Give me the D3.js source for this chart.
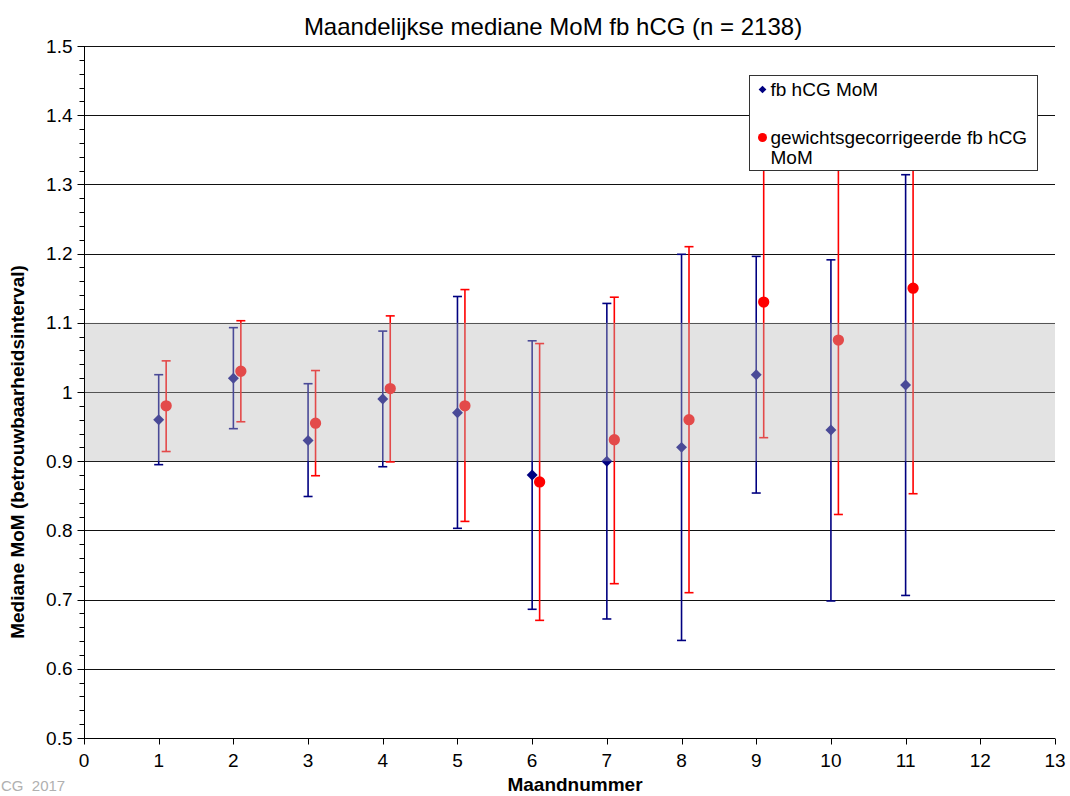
<!DOCTYPE html>
<html>
<head>
<meta charset="utf-8">
<script src="https://cdn.jsdelivr.net/npm/d3@7"></script>
<style>
body { margin: 0; background: #fff; }
svg { font-family: "Liberation Sans", Arial, sans-serif; }
</style>
</head>
<body>
<div id="chart"></div>
<script>
var _width = 1070;
var _height = 796;

// maandnummers
var months = [1, 2, 3, 4, 5, 6, 7, 8, 9, 10, 11];
// fb hCG MoM: mediaan + betrouwbaarheidsinterval
var momMedian = [0.96, 1.02, 0.93, 0.99, 0.97, 0.88, 0.90, 0.92, 1.025, 0.945, 1.01];
var momLow    = [0.895, 0.947, 0.849, 0.892, 0.803, 0.686, 0.672, 0.641, 0.854, 0.698, 0.706];
var momHigh   = [1.025, 1.093, 1.012, 1.088, 1.138, 1.074, 1.128, 1.199, 1.196, 1.191, 1.314];
// gewichtsgecorrigeerde fb hCG MoM
var corMedian = [0.98, 1.03, 0.955, 1.005, 0.98, 0.87, 0.931, 0.96, 1.13, 1.075, 1.15];
var corLow    = [0.914, 0.957, 0.879, 0.899, 0.813, 0.670, 0.723, 0.710, 0.934, 0.823, 0.853];
var corHigh   = [1.045, 1.103, 1.031, 1.110, 1.148, 1.070, 1.137, 1.210, 1.36, 1.35, 1.36];

var xTicks = d3.range(0, 14);
var yTicks = [0.5, 0.6, 0.7, 0.8, 0.9, 1, 1.1, 1.2, 1.3, 1.4, 1.5];
var band = [0.9, 1.1];

var _left = 84, _right = 1055, _top = 46, _bottom = 738;

var x = d3.scaleLinear().domain([0, 13]).range([_left, _right]);
var y = d3.scaleLinear().domain([0.5, 1.5]).range([_bottom, _top]);

function py(v) { return Math.round(y(v)) + 0.5; }

var svg = d3.select('#chart').append('svg')
    .attr('width', _width)
    .attr('height', _height);

// title
svg.append('text')
    .attr('x', 553).attr('y', 35)
    .attr('text-anchor', 'middle')
    .style('font-size', '24px')
    .text('Maandelijkse mediane MoM fb hCG (n = 2138)');

// gridlines
svg.append('g').selectAll('line').data(yTicks.slice(1)).enter().append('line')
    .attr('x1', _left).attr('x2', _right)
    .attr('y1', function (d) { return py(d); })
    .attr('y2', function (d) { return py(d); })
    .style('stroke', '#111')
    .style('stroke-width', 1);

// series
function drawSeries(medians, lows, highs, offset, color, shape) {
    var g = svg.append('g');
    var data = months.map(function (m, i) {
        return { m: m, med: medians[i], lo: lows[i], hi: highs[i] };
    });
    g.selectAll('line.bar').data(data).enter().append('line')
        .attr('x1', function (d) { return x(d.m + offset); })
        .attr('x2', function (d) { return x(d.m + offset); })
        .attr('y1', function (d) { return y(d.lo); })
        .attr('y2', function (d) { return y(d.hi); })
        .style('stroke', color).style('stroke-width', 1.6);
    ['lo', 'hi'].forEach(function (k) {
        g.selectAll('line.cap' + k).data(data).enter().append('line')
            .attr('x1', function (d) { return x(d.m + offset) - 4.5; })
            .attr('x2', function (d) { return x(d.m + offset) + 4.5; })
            .attr('y1', function (d) { return y(d[k]); })
            .attr('y2', function (d) { return y(d[k]); })
            .style('stroke', color).style('stroke-width', 1.6);
    });
    g.selectAll('path.pt').data(data).enter().append('path')
        .attr('d', d3.symbol().type(shape).size(shape === d3.symbolCircle ? 100 : 60))
        .attr('transform', function (d) {
            var r = shape === d3.symbolCircle ? '' : ' rotate(45)';
            return 'translate(' + x(d.m + offset) + ',' + y(d.med) + ')' + r;
        })
        .style('fill', color);
}

drawSeries(momMedian, momLow, momHigh, 0, '#000080', d3.symbolSquare);
drawSeries(corMedian, corLow, corHigh, 0.1, '#ff0000', d3.symbolCircle);

// reference band (0.9 - 1.1), semi transparent over the marks
svg.append('rect')
    .attr('x', _left).attr('width', _right - _left)
    .attr('y', y(band[1])).attr('height', y(band[0]) - y(band[1]))
    .style('fill', 'rgb(185,185,185)')
    .style('fill-opacity', 0.4);

// y axis
var yAxis = svg.append('g').attr('transform', 'translate(' + (_left + 0.5) + ',0)');
yAxis.append('line')
    .attr('y1', _top).attr('y2', _bottom)
    .style('stroke', '#000');
yAxis.selectAll('line.minor').data(d3.range(0, 51)).enter().append('line')
    .attr('x1', -5).attr('x2', 0)
    .attr('y1', function (d) { return py(0.5 + d * 0.02); })
    .attr('y2', function (d) { return py(0.5 + d * 0.02); })
    .style('stroke', '#000');
yAxis.selectAll('line.major').data(yTicks).enter().append('line')
    .attr('x1', -7).attr('x2', 0)
    .attr('y1', function (d) { return py(d); })
    .attr('y2', function (d) { return py(d); })
    .style('stroke', '#000');
yAxis.selectAll('text').data(yTicks).enter().append('text')
    .attr('x', -12)
    .attr('y', function (d) { return y(d) + 6.5; })
    .attr('text-anchor', 'end')
    .style('font-size', '19px')
    .text(function (d) { return d3.format('')(d); });

// x axis
var xAxis = svg.append('g').attr('transform', 'translate(0,' + (_bottom + 0.5) + ')');
xAxis.append('line')
    .attr('x1', _left).attr('x2', _right)
    .style('stroke', '#000');
xAxis.selectAll('line.tick').data(xTicks).enter().append('line')
    .attr('x1', function (d) { return Math.round(x(d)) + 0.5; })
    .attr('x2', function (d) { return Math.round(x(d)) + 0.5; })
    .attr('y1', 0).attr('y2', 6)
    .style('stroke', '#000');
xAxis.selectAll('text').data(xTicks).enter().append('text')
    .attr('x', function (d) { return x(d); })
    .attr('y', 28)
    .attr('text-anchor', 'middle')
    .style('font-size', '19px')
    .text(function (d) { return d; });

// axis titles
svg.append('text')
    .attr('x', 575).attr('y', 791)
    .attr('text-anchor', 'middle')
    .style('font-size', '19px').style('font-weight', 'bold')
    .text('Maandnummer');
svg.append('text')
    .attr('transform', 'translate(24,' + 452 + ') rotate(-90)')
    .attr('text-anchor', 'middle')
    .style('font-size', '19px').style('font-weight', 'bold')
    .text('Mediane MoM (betrouwbaarheidsinterval)');

// footer
svg.append('text')
    .attr('x', 1).attr('y', 791)
    .style('font-size', '15px')
    .style('white-space', 'pre')
    .style('fill', '#b0b0b0')
    .text('CG  2017');

// legend
var lg = svg.append('g').attr('transform', 'translate(749.5,75.5)');
lg.append('rect')
    .attr('width', 288).attr('height', 95)
    .style('fill', '#fff').style('stroke', '#333');
lg.append('path')
    .attr('d', d3.symbol().type(d3.symbolSquare).size(30))
    .attr('transform', 'translate(13,14) rotate(45)')
    .style('fill', '#000080');
lg.append('text').attr('x', 21).attr('y', 20)
    .style('font-size', '19px').text('fb hCG MoM');
lg.append('circle').attr('cx', 13).attr('cy', 62).attr('r', 4.5)
    .style('fill', '#ff0000');
lg.append('text').attr('x', 21).attr('y', 68)
    .style('font-size', '19px').text('gewichtsgecorrigeerde fb hCG');
lg.append('text').attr('x', 21).attr('y', 88)
    .style('font-size', '19px').text('MoM');
</script>
</body>
</html>
